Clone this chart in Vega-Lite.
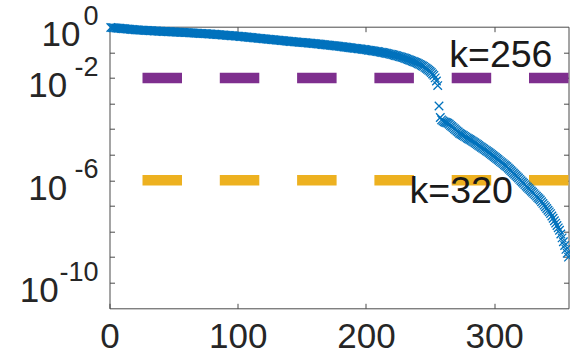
{
"$schema": "https://vega.github.io/schema/vega-lite/v6.json",
"width": 459, "height": 281.6,
"autosize": "none",
"padding": {"left": 109.5, "top": 26.7, "right": 1.5, "bottom": 51.7},
"background": "white",
"config": {"view": {"stroke": "#4a4a4a", "strokeWidth": 1}, "axis": {"domain": false, "grid": false, "labelFont": "Liberation Sans", "labelColor": "#262626", "tickColor": "#4a4a4a", "tickWidth": 1}},
"datasets": {
"thr": [{"k": "k=256", "level": 0.01, "tx": 265, "ty": 0.0274}, {"k": "k=320", "level": 1e-6, "tx": 234, "ty": 1.26e-7}],
"exps": [{"e": "0", "v": 1}, {"e": "-2", "v": 0.01}, {"e": "-6", "v": 1e-6}, {"e": "-10", "v": 1e-10}],
"sv": [
{"i":1,"s":0.933},{"i":2,"s":0.923},{"i":3,"s":0.913},{"i":4,"s":0.903},{"i":5,"s":0.894},{"i":6,"s":0.884},{"i":7,"s":0.874},{"i":8,"s":0.865},{"i":9,"s":0.855},{"i":10,"s":0.846},
{"i":11,"s":0.837},{"i":12,"s":0.828},{"i":13,"s":0.819},{"i":14,"s":0.810},{"i":15,"s":0.801},{"i":16,"s":0.792},{"i":17,"s":0.784},{"i":18,"s":0.775},{"i":19,"s":0.767},{"i":20,"s":0.759},
{"i":21,"s":0.754},{"i":22,"s":0.748},{"i":23,"s":0.743},{"i":24,"s":0.738},{"i":25,"s":0.733},{"i":26,"s":0.728},{"i":27,"s":0.723},{"i":28,"s":0.718},{"i":29,"s":0.713},{"i":30,"s":0.708},
{"i":31,"s":0.703},{"i":32,"s":0.698},{"i":33,"s":0.693},{"i":34,"s":0.689},{"i":35,"s":0.684},{"i":36,"s":0.679},{"i":37,"s":0.675},{"i":38,"s":0.670},{"i":39,"s":0.665},{"i":40,"s":0.661},
{"i":41,"s":0.657},{"i":42,"s":0.653},{"i":43,"s":0.649},{"i":44,"s":0.646},{"i":45,"s":0.642},{"i":46,"s":0.638},{"i":47,"s":0.635},{"i":48,"s":0.631},{"i":49,"s":0.627},{"i":50,"s":0.624},
{"i":51,"s":0.620},{"i":52,"s":0.617},{"i":53,"s":0.613},{"i":54,"s":0.610},{"i":55,"s":0.606},{"i":56,"s":0.603},{"i":57,"s":0.599},{"i":58,"s":0.596},{"i":59,"s":0.592},{"i":60,"s":0.589},
{"i":61,"s":0.585},{"i":62,"s":0.581},{"i":63,"s":0.577},{"i":64,"s":0.573},{"i":65,"s":0.569},{"i":66,"s":0.565},{"i":67,"s":0.561},{"i":68,"s":0.557},{"i":69,"s":0.553},{"i":70,"s":0.550},
{"i":71,"s":0.546},{"i":72,"s":0.542},{"i":73,"s":0.538},{"i":74,"s":0.535},{"i":75,"s":0.531},{"i":76,"s":0.527},{"i":77,"s":0.524},{"i":78,"s":0.520},{"i":79,"s":0.516},{"i":80,"s":0.513},
{"i":81,"s":0.508},{"i":82,"s":0.504},{"i":83,"s":0.499},{"i":84,"s":0.494},{"i":85,"s":0.490},{"i":86,"s":0.485},{"i":87,"s":0.481},{"i":88,"s":0.476},{"i":89,"s":0.472},{"i":90,"s":0.468},
{"i":91,"s":0.463},{"i":92,"s":0.459},{"i":93,"s":0.455},{"i":94,"s":0.451},{"i":95,"s":0.446},{"i":96,"s":0.442},{"i":97,"s":0.438},{"i":98,"s":0.434},{"i":99,"s":0.430},{"i":100,"s":0.427},
{"i":101,"s":0.422},{"i":102,"s":0.417},{"i":103,"s":0.412},{"i":104,"s":0.408},{"i":105,"s":0.403},{"i":106,"s":0.398},{"i":107,"s":0.394},{"i":108,"s":0.389},{"i":109,"s":0.385},{"i":110,"s":0.380},
{"i":111,"s":0.376},{"i":112,"s":0.372},{"i":113,"s":0.367},{"i":114,"s":0.363},{"i":115,"s":0.359},{"i":116,"s":0.355},{"i":117,"s":0.351},{"i":118,"s":0.347},{"i":119,"s":0.343},{"i":120,"s":0.339},
{"i":121,"s":0.335},{"i":122,"s":0.331},{"i":123,"s":0.327},{"i":124,"s":0.324},{"i":125,"s":0.320},{"i":126,"s":0.316},{"i":127,"s":0.313},{"i":128,"s":0.309},{"i":129,"s":0.306},{"i":130,"s":0.302},
{"i":131,"s":0.299},{"i":132,"s":0.295},{"i":133,"s":0.292},{"i":134,"s":0.288},{"i":135,"s":0.285},{"i":136,"s":0.282},{"i":137,"s":0.279},{"i":138,"s":0.275},{"i":139,"s":0.272},{"i":140,"s":0.269},
{"i":141,"s":0.266},{"i":142,"s":0.264},{"i":143,"s":0.261},{"i":144,"s":0.258},{"i":145,"s":0.256},{"i":146,"s":0.253},{"i":147,"s":0.250},{"i":148,"s":0.248},{"i":149,"s":0.245},{"i":150,"s":0.243},
{"i":151,"s":0.240},{"i":152,"s":0.238},{"i":153,"s":0.235},{"i":154,"s":0.233},{"i":155,"s":0.230},{"i":156,"s":0.228},{"i":157,"s":0.226},{"i":158,"s":0.223},{"i":159,"s":0.221},{"i":160,"s":0.219},
{"i":161,"s":0.216},{"i":162,"s":0.213},{"i":163,"s":0.211},{"i":164,"s":0.208},{"i":165,"s":0.206},{"i":166,"s":0.203},{"i":167,"s":0.200},{"i":168,"s":0.198},{"i":169,"s":0.195},{"i":170,"s":0.193},
{"i":171,"s":0.190},{"i":172,"s":0.188},{"i":173,"s":0.186},{"i":174,"s":0.183},{"i":175,"s":0.181},{"i":176,"s":0.179},{"i":177,"s":0.176},{"i":178,"s":0.174},{"i":179,"s":0.172},{"i":180,"s":0.170},
{"i":181,"s":0.167},{"i":182,"s":0.165},{"i":183,"s":0.162},{"i":184,"s":0.160},{"i":185,"s":0.158},{"i":186,"s":0.155},{"i":187,"s":0.153},{"i":188,"s":0.151},{"i":189,"s":0.148},{"i":190,"s":0.146},
{"i":191,"s":0.144},{"i":192,"s":0.142},{"i":193,"s":0.140},{"i":194,"s":0.138},{"i":195,"s":0.136},{"i":196,"s":0.134},{"i":197,"s":0.132},{"i":198,"s":0.130},{"i":199,"s":0.128},{"i":200,"s":0.126},
{"i":201,"s":0.124},{"i":202,"s":0.121},{"i":203,"s":0.119},{"i":204,"s":0.117},{"i":205,"s":0.115},{"i":206,"s":0.113},{"i":207,"s":0.111},{"i":208,"s":0.109},{"i":209,"s":0.107},{"i":210,"s":0.105},
{"i":211,"s":0.102},{"i":212,"s":0.100},{"i":213,"s":0.0977},{"i":214,"s":0.0955},{"i":215,"s":0.0933},{"i":216,"s":0.0912},{"i":217,"s":0.0891},{"i":218,"s":0.0871},{"i":219,"s":0.0851},{"i":220,"s":0.0832},
{"i":221,"s":0.0806},{"i":222,"s":0.0780},{"i":223,"s":0.0755},{"i":224,"s":0.0731},{"i":225,"s":0.0708},{"i":226,"s":0.0686},{"i":227,"s":0.0664},{"i":228,"s":0.0643},{"i":229,"s":0.0622},{"i":230,"s":0.0603},
{"i":231,"s":0.0576},{"i":232,"s":0.0550},{"i":233,"s":0.0525},{"i":234,"s":0.0501},{"i":235,"s":0.0479},{"i":236,"s":0.0457},{"i":237,"s":0.0437},{"i":238,"s":0.0417},{"i":239,"s":0.0398},{"i":240,"s":0.0380},
{"i":241,"s":0.0358},{"i":242,"s":0.0337},{"i":243,"s":0.0318},{"i":244,"s":0.0299},{"i":245,"s":0.0282},{"i":246,"s":0.0258},{"i":247,"s":0.0237},{"i":248,"s":0.0217},{"i":249,"s":0.0199},{"i":250,"s":0.0182},
{"i":251,"s":0.0162},{"i":252,"s":0.0143},{"i":253,"s":0.0126},{"i":254,"s":0.0100},{"i":255,"s":0.00759},{"i":256,"s":0.00501},{"i":257,"s":0.000794},{"i":258,"s":0.000282},{"i":259,"s":0.000229},{"i":260,"s":0.000209},
{"i":261,"s":0.000195},{"i":262,"s":0.000186},{"i":263,"s":0.000178},{"i":264,"s":0.000170},{"i":265,"s":0.000154},{"i":266,"s":0.000139},{"i":267,"s":0.000126},{"i":268,"s":0.000114},{"i":269,"s":0.000103},{"i":270,"s":9.35e-5},
{"i":271,"s":8.46e-5},{"i":272,"s":7.66e-5},{"i":273,"s":6.92e-5},{"i":274,"s":6.45e-5},{"i":275,"s":6.00e-5},{"i":276,"s":5.59e-5},{"i":277,"s":5.21e-5},{"i":278,"s":4.85e-5},{"i":279,"s":4.51e-5},{"i":280,"s":4.20e-5},
{"i":281,"s":3.92e-5},{"i":282,"s":3.65e-5},{"i":283,"s":3.40e-5},{"i":284,"s":3.16e-5},{"i":285,"s":2.92e-5},{"i":286,"s":2.70e-5},{"i":287,"s":2.49e-5},{"i":288,"s":2.30e-5},{"i":289,"s":2.12e-5},{"i":290,"s":1.96e-5},
{"i":291,"s":1.81e-5},{"i":292,"s":1.67e-5},{"i":293,"s":1.54e-5},{"i":294,"s":1.43e-5},{"i":295,"s":1.32e-5},{"i":296,"s":1.22e-5},{"i":297,"s":1.12e-5},{"i":298,"s":1.02e-5},{"i":299,"s":9.33e-6},{"i":300,"s":8.51e-6},
{"i":301,"s":7.76e-6},{"i":302,"s":7.08e-6},{"i":303,"s":6.46e-6},{"i":304,"s":5.89e-6},{"i":305,"s":5.37e-6},{"i":306,"s":4.90e-6},{"i":307,"s":4.47e-6},{"i":308,"s":4.07e-6},{"i":309,"s":3.72e-6},{"i":310,"s":3.39e-6},
{"i":311,"s":3.03e-6},{"i":312,"s":2.71e-6},{"i":313,"s":2.42e-6},{"i":314,"s":2.16e-6},{"i":315,"s":1.93e-6},{"i":316,"s":1.73e-6},{"i":317,"s":1.54e-6},{"i":318,"s":1.38e-6},{"i":319,"s":1.23e-6},{"i":320,"s":1.09e-6},
{"i":321,"s":9.66e-7},{"i":322,"s":8.58e-7},{"i":323,"s":7.62e-7},{"i":324,"s":6.77e-7},{"i":325,"s":6.03e-7},{"i":326,"s":5.37e-7},{"i":327,"s":4.79e-7},{"i":328,"s":4.27e-7},{"i":329,"s":3.80e-7},{"i":330,"s":3.39e-7},
{"i":331,"s":3.02e-7},{"i":332,"s":2.69e-7},{"i":333,"s":2.40e-7},{"i":334,"s":2.14e-7},{"i":335,"s":1.91e-7},{"i":336,"s":1.70e-7},{"i":337,"s":1.46e-7},{"i":338,"s":1.25e-7},{"i":339,"s":1.07e-7},{"i":340,"s":9.22e-8},
{"i":341,"s":7.91e-8},{"i":342,"s":6.79e-8},{"i":343,"s":5.83e-8},{"i":344,"s":5.01e-8},{"i":345,"s":4.05e-8},{"i":346,"s":3.27e-8},{"i":347,"s":2.64e-8},{"i":348,"s":2.13e-8},{"i":349,"s":1.72e-8},{"i":350,"s":1.39e-8},
{"i":351,"s":1.12e-8},{"i":352,"s":7.94e-9},{"i":353,"s":5.62e-9},{"i":354,"s":3.98e-9},{"i":355,"s":2.82e-9},{"i":356,"s":2.00e-9},{"i":357,"s":1.41e-9},{"i":358,"s":1.00e-9}
]
},
"layer": [
{"data": {"name": "thr"},
 "mark": {"type": "rule", "strokeWidth": 10.5, "strokeDash": [39.5, 37.8], "strokeCap": "butt"},
 "encoding": {
  "y": {"field": "level", "type": "quantitative", "scale": {"type": "log", "domain": [1e-11, 1], "nice": false},
   "axis": {"orient": "left", "title": null, "values": [1, 0.1, 0.01, 0.001, 0.0001, 1e-5, 1e-6, 1e-7, 1e-8, 1e-9, 1e-10, 1e-11],
    "ticks": false, "labelOverlap": false, "labelFlush": false, "labelBound": false,
    "labelExpr": "indexof([0,2,6,10], round(-log(datum.value)/LN10)) >= 0 ? '10' : ''",
    "labelFontSize": 35, "labelAlign": "right", "labelBaseline": "middle", "labelOffset": 8,
    "labelPadding": {"condition": [{"test": "datum.value > 0.5", "value": 29.5}, {"test": "datum.value < 1e-9", "value": 51.2}], "value": 42.8}}},
  "color": {"field": "k", "type": "nominal", "scale": {"domain": ["k=256", "k=320"], "range": ["#7E2F8E", "#EDB120"]}, "legend": null}
 }},
{"data": {"name": "sv"},
 "mark": {"type": "point", "shape": "M-1,-1L1,1M-1,1L1,-1", "filled": false, "color": "#0072BD", "strokeWidth": 1.3, "size": 72, "opacity": 1},
 "encoding": {
  "x": {"field": "i", "type": "quantitative", "scale": {"domain": [0, 358], "nice": false, "zero": false},
   "axis": {"orient": "bottom", "title": null, "values": [0, 100, 200, 300], "tickSize": -5, "labelFontSize": 35, "labelBaseline": "top", "labelPadding": 16.4, "labelFlush": false, "labelOverlap": false}},
  "y": {"field": "s", "type": "quantitative", "scale": {"type": "log", "domain": [1e-11, 1], "nice": false},
   "axis": {"orient": "left", "title": null, "values": [0.1, 0.01, 0.001, 0.0001, 1e-5, 1e-6, 1e-7, 1e-8, 1e-9, 1e-10], "tickSize": -5, "labels": false}}
 }},
{"data": {"name": "exps"},
 "mark": {"type": "text", "align": "right", "baseline": "middle", "font": "Liberation Sans", "fontSize": 27, "color": "#262626", "dx": -11, "dy": -10},
 "encoding": {
  "x": {"datum": 0, "type": "quantitative", "scale": {"domain": [0, 358], "nice": false, "zero": false}, "axis": null},
  "y": {"field": "v", "type": "quantitative", "scale": {"type": "log", "domain": [1e-11, 1], "nice": false}, "axis": null},
  "text": {"field": "e"}
 }},
{"data": {"name": "thr"},
 "mark": {"type": "text", "align": "left", "baseline": "alphabetic", "font": "Liberation Sans", "fontSize": 37.5, "color": "#1a1a1a"},
 "encoding": {
  "x": {"field": "tx", "type": "quantitative", "scale": {"domain": [0, 358], "nice": false, "zero": false},
   "axis": {"orient": "top", "title": null, "values": [100, 200, 300], "tickSize": -5, "labels": false}},
  "y": {"field": "ty", "type": "quantitative", "scale": {"type": "log", "domain": [1e-11, 1], "nice": false},
   "axis": {"orient": "right", "title": null, "values": [0.1, 0.01, 0.001, 0.0001, 1e-5, 1e-6, 1e-7, 1e-8, 1e-9, 1e-10], "tickSize": -5, "labels": false}},
  "text": {"field": "k"}
 }}
],
"resolve": {"axis": {"x": "independent", "y": "independent"}}
}
